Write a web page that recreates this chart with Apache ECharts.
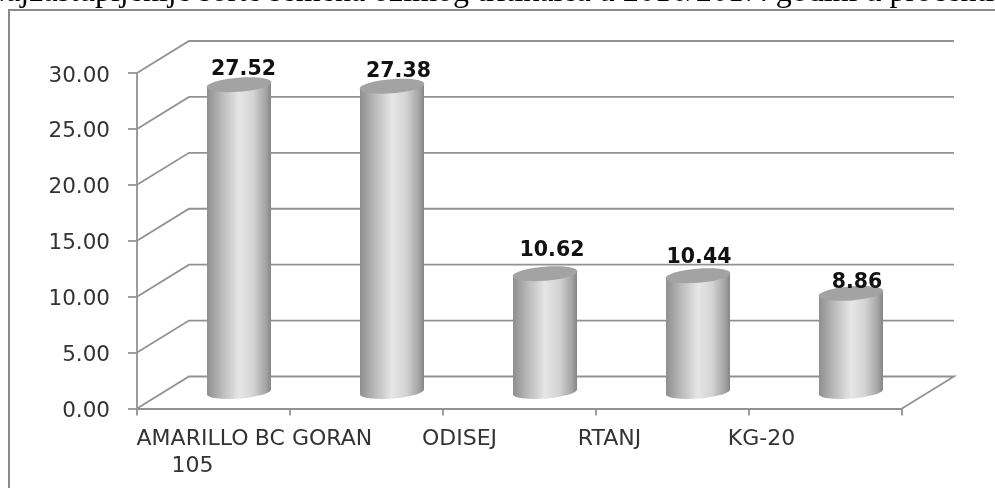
<!DOCTYPE html>
<html><head><meta charset="utf-8">
<style>html,body{margin:0;padding:0;background:#fff}#c{width:995px;height:488px}</style>
<script src="https://cdn.jsdelivr.net/npm/echarts@6/dist/echarts.min.js"></script>
</head><body><div id="c"></div>
<script>
const categories = ['AMARILLO\n105', 'BC GORAN', 'ODISEJ', 'RTANJ', 'KG-20'];
const values = [27.52, 27.38, 10.62, 10.44, 8.86];
const gridValues = [0, 5, 10, 15, 20, 25, 30];
const titleText = 'Najzastupljenije sorte semena ozimog tritikalea u 2016/2017. godini u procentima';

// layout nudges, kept apart from the data
const categoryLabelShift = [21, 53, 60, 63, 64];
const valueLabelNudgeX = [4.5, 6.5, 7, 1, 6];
const valueLabelLift = [9, 9, 17, 12, 5];

const depthX = 52, depthY = 32;
const axisColor = '#929292', sans = '"DejaVu Sans",sans-serif';
const chart = echarts.init(document.getElementById('c'), null, {renderer:'canvas'});

function wallItem(params, api) {
  const v = api.value(0);
  const band = api.size([1, 0])[0];
  const a = api.coord([0, v]), b = api.coord([categories.length - 1, v]);
  const lx = a[0] - band / 2, rx = b[0] + band / 2, y = a[1];
  const pts = [[lx, y], [lx + depthX, y - depthY], [rx + depthX, y - depthY]];
  if (v === 0) pts.push([rx, y]);
  return {type:'polyline', shape:{points:pts}, style:{fill:null, stroke:axisColor, lineWidth:1.8}};
}
function barItem(params, api) {
  const i = api.value(0), v = api.value(1);
  const base = api.coord([i, 0]), top = api.coord([i, v]);
  const cx = base[0] + depthX / 2 - 0.5, w = 64, rx = 32.4, ry = 7, tilt = -4.5;
  const by = base[1] - depthY / 2, ty = top[1] - depthY / 2;
  const l = cx - w / 2, r = cx + w / 2, dy = 2.5;
  const d = `M${l} ${ty + dy}L${r} ${ty - dy}L${r} ${by - dy}A${rx} ${ry} ${tilt} 0 1 ${l} ${by + dy}Z`;
  return {type:'group', children:[
    {type:'path', shape:{pathData:d},
      style:{fill:new echarts.graphic.LinearGradient(l,0,r,0,[
        {offset:0,color:'#8f8f8f'},{offset:0.25,color:'#bdbdbd'},{offset:0.5,color:'#e6e6e6'},
        {offset:0.72,color:'#d4d4d4'},{offset:0.92,color:'#a4a4a4'},{offset:1,color:'#858585'}],true),
        stroke:null}},
    {type:'ellipse', shape:{cx:cx, cy:ty, rx:rx, ry:ry}, rotation:-tilt * Math.PI / 180, originX:cx, originY:ty,
      style:{fill:'#a3a3a3', stroke:null}},
    {type:'text', x:cx + valueLabelNudgeX[i], y:ty - valueLabelLift[i] + 4.5, z2:10,
      style:{text:v.toFixed(2), fill:'#111', align:'center', verticalAlign:'bottom',
      font:'bold 20.5px "DejaVu Sans",sans-serif'}}
  ]};
}

chart.setOption({
  animation:false,
  backgroundColor:'#fff',
  graphic:[
    {type:'rect', shape:{x:9, y:10, width:1100, height:600}, style:{fill:null, stroke:'#8a8a8a', lineWidth:2}},
    {type:'text', x:-17, y:-23, style:{text:titleText, fill:'#000', font:'32px "Liberation Serif",serif'}}
  ],
  grid:{left:137, right:93, top:73, bottom:79.5},
  xAxis:{type:'category',
    data:categories.map((c, i) => ({value:c, textStyle:{padding:[0, 2 * categoryLabelShift[i], 0, 0]}})),
    axisLine:{lineStyle:{color:axisColor, width:1.8}},
    axisTick:{show:true, alignWithLabel:false, length:7, lineStyle:{color:axisColor, width:1.8}},
    axisLabel:{color:'#333', fontSize:22, fontFamily:sans, interval:0, margin:17.5, lineHeight:27, hideOverlap:false},
    splitLine:{show:false}},
  yAxis:{type:'value', min:0, max:30, interval:5,
    axisLine:{show:true, lineStyle:{color:axisColor, width:1.8}},
    axisTick:{show:true, length:9, lineStyle:{color:axisColor, width:1.8}},
    axisLabel:{color:'#333', fontSize:21.5, fontFamily:sans, margin:27, verticalAlign:'top', lineHeight:6, formatter:v => v.toFixed(2)},
    splitLine:{show:false}},
  series:[
    {type:'custom', coordinateSystem:'cartesian2d', renderItem:wallItem, clip:false, z:1,
      encode:{y:0}, data:gridValues.map(v => [v])},
    {type:'custom', coordinateSystem:'cartesian2d', renderItem:barItem, clip:false, z:3,
      encode:{x:0, y:1}, data:values.map((v, i) => [i, v])}
  ]
});
</script></body></html>
